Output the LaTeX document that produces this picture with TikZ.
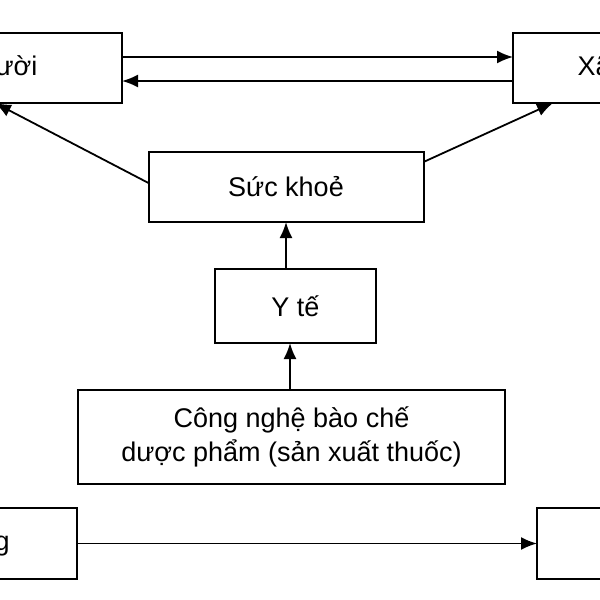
\documentclass[tikz,border=0pt]{standalone}
\usepackage{fontspec}
\setmainfont{Liberation Sans}
\usepackage{tikz}
\usetikzlibrary{arrows.meta}

\begin{document}
\begin{tikzpicture}[x=1pt,y=-1pt,
  every node/.style={draw, line width=2pt, inner sep=0pt, outer sep=0pt, align=center, font=\fontsize{27}{34}\selectfont},
  link/.style={line width=1.8pt, -{Latex[length=16pt,width=13pt]}}]
\useasboundingbox (0,0) rectangle (600,600);
\clip (0,0) rectangle (600,600);

\node[minimum width=298pt, minimum height=70pt] (conn) at (-27,68) {Con người};
\node[minimum width=206pt, minimum height=70pt] (xa) at (616,68) {Xã hội};
\node[minimum width=275pt, minimum height=70pt] (suc) at (286,187) {Sức khoẻ};
\node[minimum width=161pt, minimum height=74pt] (yte) at (295.5,306) {Y tế};
\node[minimum width=427pt, minimum height=94pt] (cong) at (291.5,437) {Công nghệ bào chế\\dược phẩm (sản xuất thuốc)};
\node[minimum width=268pt, minimum height=71pt] (moi) at (-57,543.5) {Môi trường};
\node[minimum width=200pt, minimum height=71pt] (br) at (637,543.5) {};

\draw[link] ([yshift=11pt]conn.east) -- ([yshift=11pt]xa.west);
\draw[link] ([yshift=-13pt]xa.west) -- ([yshift=-13pt]conn.east);
\draw[link] ([yshift=4pt]suc.west) -- ([xshift=-127pt]conn.south east);
\draw[link] ([yshift=25pt]suc.east) -- ([xshift=40pt]xa.south west);
\draw[link] (yte.north -| suc.south) -- (suc.south);
\draw[link] (cong.north -| 290,0) -- (yte.south -| 290,0);
\draw[link] (moi.east) -- (moi.east -| br.west);
\end{tikzpicture}
\end{document}
